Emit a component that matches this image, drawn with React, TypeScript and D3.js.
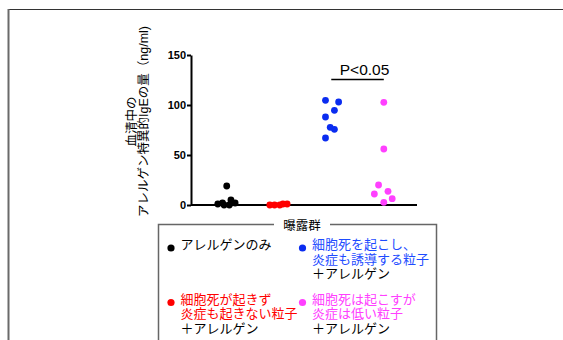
import React, { useRef, useEffect } from "react";
import * as d3 from "d3";

// groups in x order
const groups = ["allergen", "noDeathNoInflam", "deathInflam", "deathLowInflam"];
const groupColors = ["#000000", "#ff0000", "#0a2cf0", "#ff40ff"];

// IgE values (ng/ml), with horizontal jitter as a fraction of the group step
const allergenOnly = [1, 2, 0, 19, 0, 5, 2];
const allergenOnlyJitter = [-0.16, -0.07, -0.04, 0.01, 0.06, 0.09, 0.17];
const noDeathNoInflam = [0, 0, 0, 1, 1];
const noDeathNoInflamJitter = [-0.17, -0.08, 0.02, 0.08, 0.16];
const deathInflam = [104.7, 103, 94.7, 88, 77.7, 75.7, 67];
const deathInflamJitter = [-0.11, 0.14, 0.06, -0.11, -0.02, 0.06, -0.11];
const deathLowInflam = [102.7, 56, 20, 13.7, 11, 6.3, 2.7];
const deathLowInflamJitter = [0, 0, -0.1, 0.08, -0.18, 0.16, 0];

const yTicks = [0, 50, 100, 150];
const yLabelLines = ["血清中の", "アレルゲン特異的IgEの量（ng/ml)"];
const sigLabel = "P<0.05";
const legendTitle = "曝露群";
const legendItems = [
  { lines: ["アレルゲンのみ"], color: "#000000", textColor: "#000000" },
  { lines: ["細胞死を起こし、", "炎症も誘導する粒子", "＋アレルゲン"], color: "#0a2cf0", textColor: "#1e4cff" },
  { lines: ["細胞死が起きず", "炎症も起きない粒子", "＋アレルゲン"], color: "#ff0000", textColor: "#ff0000" },
  { lines: ["細胞死は起こすが", "炎症は低い粒子", "＋アレルゲン"], color: "#ff40ff", textColor: "#ff40ff" },
];

const FONT = "'Liberation Sans', Arial, 'Noto Sans CJK JP', sans-serif";

const App = () => {
  const ref = useRef<SVGSVGElement>(null);

  useEffect(() => {
    const svg = d3.select(ref.current);
    svg.selectAll("*").remove();

    // outer frame
    svg.append("line").attr("x1", 8).attr("x2", 570).attr("y1", 9.5).attr("y2", 9.5)
      .attr("stroke", "#333").attr("stroke-width", 1.2);
    svg.append("line").attr("x1", 8.5).attr("x2", 8.5).attr("y1", 9).attr("y2", 345)
      .attr("stroke", "#6a6a6a").attr("stroke-width", 2);

    const plot = { left: 191, right: 417, top: 55, bottom: 205 };

    const y = d3.scaleLinear().domain([0, 150]).range([plot.bottom, plot.top]);
    const x = d3.scalePoint().domain(groups).range([plot.left, plot.right + 2]).padding(0.67);
    const step = x.step();

    // y axis
    const yAxis = d3.axisLeft(y).tickValues(yTicks).tickSize(4).tickSizeOuter(0).tickPadding(1);
    const yG = svg.append("g").attr("transform", `translate(${plot.left},0)`).call(yAxis);
    yG.selectAll("path, line").attr("stroke", "#000").attr("stroke-width", 2);
    yG.selectAll("text").attr("font-family", FONT).attr("font-size", 11)
      .attr("font-weight", "bold").attr("fill", "#000");

    // x axis line (no ticks)
    svg.append("line").attr("x1", plot.left).attr("x2", plot.right)
      .attr("y1", y(0)).attr("y2", y(0)).attr("stroke", "#000").attr("stroke-width", 2);

    // y label (rotated, two lines)
    const yl = svg.append("text")
      .attr("transform", `translate(131,121.5) rotate(-90)`)
      .attr("text-anchor", "middle").attr("font-family", FONT).attr("font-size", 12.5).attr("fill", "#000");
    yLabelLines.forEach((l, i) => {
      yl.append("tspan").attr("x", 0).attr("y", 4.5 + i * 12.5).text(l);
    });

    // dots
    const series = [
      { vals: allergenOnly, jit: allergenOnlyJitter },
      { vals: noDeathNoInflam, jit: noDeathNoInflamJitter },
      { vals: deathInflam, jit: deathInflamJitter },
      { vals: deathLowInflam, jit: deathLowInflamJitter },
    ];
    series.forEach((s, gi) => {
      const cx = x(groups[gi]) as number;
      svg.append("g").selectAll("circle")
        .data(s.vals)
        .enter()
        .append("circle")
        .attr("cx", (d, i) => cx + s.jit[i] * step)
        .attr("cy", d => y(d))
        .attr("r", 3.4)
        .attr("fill", groupColors[gi]);
    });

    // significance bar
    const x1 = x(groups[2]) as number;
    const x2 = x(groups[3]) as number;
    svg.append("line").attr("x1", x1).attr("x2", x2).attr("y1", 79.5).attr("y2", 79.5)
      .attr("stroke", "#000").attr("stroke-width", 1.3);
    svg.append("text").attr("x", (x1 + x2) / 2 + 7).attr("y", 75).attr("text-anchor", "middle")
      .attr("font-family", FONT).attr("font-size", 15.5).attr("fill", "#000").text(sigLabel);

    // legend box
    const box = { left: 158.5, top: 224.5, right: 436.5 };
    svg.append("rect").attr("x", box.left).attr("y", box.top)
      .attr("width", box.right - box.left).attr("height", 150)
      .attr("fill", "none").attr("stroke", "#666").attr("stroke-width", 1.5);
    svg.append("rect").attr("x", 274).attr("y", 218).attr("width", 56).attr("height", 14).attr("fill", "#fff");
    svg.append("text").attr("x", 302).attr("y", 229.5).attr("text-anchor", "middle")
      .attr("font-family", FONT).attr("font-size", 12.5).attr("fill", "#000").text(legendTitle);

    const cols = [171, 302.5];
    const rows = [248, 302.5];
    legendItems.forEach((item, i) => {
      const cx = cols[i % 2];
      const cy = rows[Math.floor(i / 2)];
      svg.append("circle").attr("cx", cx).attr("cy", cy).attr("r", 3.6).attr("fill", item.color);
      item.lines.forEach((l, j) => {
        svg.append("text").attr("x", cx + 9.5).attr("y", cy + 1 + j * 14.5)
          .attr("font-family", FONT).attr("font-size", 13)
          .attr("fill", j === 2 ? "#000" : item.textColor).text(l);
      });
    });
  }, []);

  return (
    <svg ref={ref} width={563} height={340}
      style={{ position: "absolute", left: 0, top: 0, background: "#fff" }} />
  );
};

export default App;
